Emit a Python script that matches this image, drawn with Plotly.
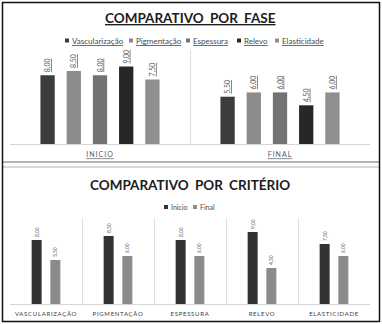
import plotly.graph_objects as go

# ---- data ----
criterios = ["Vascularização", "Pigmentação", "Espessura", "Relevo", "Elasticidade"]
criterios_eixo = ["VASCULARIZAÇÃO", "PIGMENTAÇÃO", "ESPESSURA", "RELEVO", "ELASTICIDADE"]
fases = ["INICIO", "FINAL"]
fases_legenda = ["Inicio", "Final"]
inicio = [8.00, 8.50, 8.00, 9.00, 7.50]
final = [5.50, 6.00, 6.00, 4.50, 6.00]

# ---- canvas helpers (pixel -> paper fraction) ----
W, H = 382, 324


def px(x):
    return x / W


def py(y):
    return 1 - y / H


FONT = "Lato"
cores_criterio = ["#3c3c3c", "#8b8b8b", "#727272", "#272727", "#8f8f8f"]
cores_fase = ["#333333", "#8a8a8a"]

fig = go.Figure()

# ---- upper chart: criteria grouped by phase ----
n = len(criterios)
passo, larg = 0.1456, 0.0794
series_fase = list(zip(inicio, final))
for i, (nome, cor) in enumerate(zip(criterios, cores_criterio)):
    centro = (i - (n - 1) / 2) * passo
    fig.add_trace(go.Bar(
        x=fases, y=list(series_fase[i]), name=nome,
        marker=dict(color=cor, line_width=0),
        width=larg, offset=centro - larg / 2,
        texttemplate="%{y:.2f}", textposition="outside", textangle=-90,
        textfont=dict(size=7, color="#5a5a5a", family=FONT, lineposition="under"),
        cliponaxis=False, showlegend=False, xaxis="x", yaxis="y",
    ))

# ---- lower chart: phases grouped by criterion ----
passo2, larg2 = 0.26, 0.139
for j, (serie, nome, cor) in enumerate(zip([inicio, final], fases_legenda, cores_fase)):
    centro = (j - 0.5) * passo2
    fig.add_trace(go.Bar(
        x=criterios_eixo, y=serie, name=nome,
        marker=dict(color=cor, line_width=0),
        width=larg2, offset=centro - larg2 / 2,
        texttemplate="%{y:.2f}", textposition="outside", textangle=-90,
        textfont=dict(size=6, color="#5a5a5a", family=FONT),
        cliponaxis=False, showlegend=False, xaxis="x2", yaxis="y2",
    ))

eixo_x = dict(
    type="category", showgrid=True, gridcolor="#dedede", gridwidth=1,
    tickson="boundaries", ticks="", showline=True, linecolor="#d6d6d6",
    linewidth=1, zeroline=False, fixedrange=True, automargin=False,
    tickangle=0,
)
eixo_y = dict(visible=False, showgrid=False, zeroline=False, fixedrange=True,
              automargin=False)

fig.update_layout(
    width=W, height=H, autosize=False,
    margin=dict(l=0, r=0, t=0, b=0, pad=0),
    paper_bgcolor="white", plot_bgcolor="white",
    barmode="overlay", separators=",.", showlegend=False,
    font=dict(family=FONT, color="#404040"),
    xaxis=dict(
        eixo_x, domain=[px(10), px(370)], anchor="y",
        tickvals=fases,
        ticktext=[f'<span style="letter-spacing:1px">{f}</span>' for f in fases],
        tickfont=dict(size=7, color="#5a5a5a", family=FONT, lineposition="under"),
        ticklabelstandoff=4,
    ),
    yaxis=dict(eixo_y, domain=[py(144), py(50)], range=[0, 94 / 8.6], anchor="x"),
    xaxis2=dict(
        eixo_x, domain=[px(10), px(370)], anchor="y2",
        tickvals=criterios_eixo,
        ticktext=[f'<span style="letter-spacing:0.7px">{c}</span>' for c in criterios_eixo],
        tickfont=dict(size=6, color="#3a3a3a", family=FONT),
        ticklabelstandoff=4,
    ),
    yaxis2=dict(eixo_y, domain=[py(304), py(218)], range=[0, 86 / 8.0], anchor="x2"),
)

# ---- titles ----
fig.add_annotation(
    x=px(190), y=py(18), xref="paper", yref="paper", showarrow=False,
    xanchor="center", yanchor="middle",
    text='<span style="word-spacing:3px">COMPARATIVO POR FASE</span>',
    font=dict(size=13.5, family=FONT, weight="bold", color="#1c1c1c", lineposition="under"),
)
fig.add_annotation(
    x=px(190), y=py(185), xref="paper", yref="paper", showarrow=False,
    xanchor="center", yanchor="middle",
    text='<span style="word-spacing:3px">COMPARATIVO POR CRITÉRIO</span>',
    font=dict(size=13.5, family=FONT, weight="bold", color="#1c1c1c"),
)


# ---- legends (swatch + label) ----
def legenda(itens, cores, xs, y, sublinhado, tam):
    for nome, cor, x in zip(itens, cores, xs):
        fig.add_shape(
            type="rect", xref="paper", yref="paper",
            x0=px(x), x1=px(x + 4), y0=py(y + 2), y1=py(y - 2),
            fillcolor=cor, line_width=0,
        )
        fig.add_annotation(
            x=px(x + 5), y=py(y), xref="paper", yref="paper", showarrow=False,
            xanchor="left", yanchor="middle",
            text=nome,
            font=dict(size=tam, family=FONT, color="#4a4a4a",
                      lineposition="under" if sublinhado else "none"),
        )


legenda(criterios, cores_criterio, [65, 129, 186, 237, 275], 40.5, True, 8)
legenda(fases_legenda, cores_fase, [164, 193], 207, False, 7)

# ---- separator between the two charts and outer frame ----
fig.add_shape(type="line", xref="paper", yref="paper",
              x0=px(3), x1=px(379), y0=py(162), y1=py(162),
              line=dict(color="#b4b4b4", width=2))
fig.add_shape(type="line", xref="paper", yref="paper",
              x0=px(3), x1=px(379), y0=py(167), y1=py(167),
              line=dict(color="#cdcdcd", width=1.5))
fig.add_shape(type="rect", xref="paper", yref="paper",
              x0=px(2.5), x1=px(379.5), y0=py(321.5), y1=py(2.5),
              line=dict(color="#111111", width=1.5), fillcolor="rgba(0,0,0,0)")

fig.write_html("out.html")
